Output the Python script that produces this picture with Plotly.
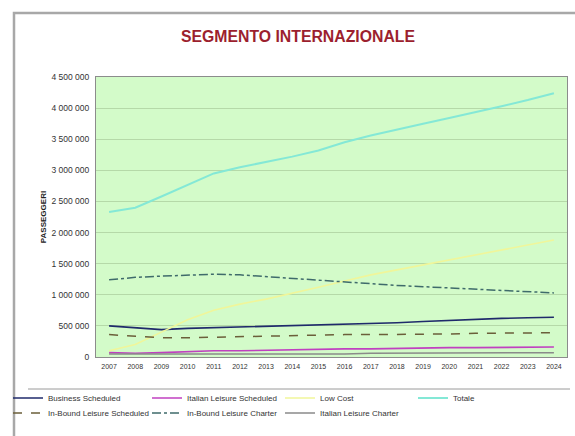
import plotly.graph_objects as go

years = [str(y) for y in range(2007, 2025)]

business_scheduled = [500000, 470000, 440000, 460000, 470000, 480000, 490000, 500000, 510000,
                      520000, 530000, 550000, 570000, 590000, 600000, 620000, 630000, 640000]
italian_leisure_scheduled = [70000, 60000, 70000, 90000, 100000, 100000, 110000, 110000, 120000,
                             130000, 130000, 140000, 140000, 150000, 150000, 150000, 160000, 160000]
low_cost = [100000, 200000, 400000, 600000, 750000, 850000, 930000, 1020000, 1120000,
            1220000, 1320000, 1400000, 1480000, 1560000, 1640000, 1720000, 1800000, 1880000]
totale = [2330000, 2400000, 2580000, 2760000, 2950000, 3050000, 3130000, 3220000, 3320000,
          3450000, 3560000, 3660000, 3750000, 3840000, 3930000, 4030000, 4130000, 4240000]
inbound_leisure_scheduled = [360000, 330000, 310000, 310000, 320000, 330000, 330000, 340000, 350000,
                             360000, 360000, 360000, 370000, 370000, 380000, 380000, 390000, 390000]
inbound_leisure_charter = [1240000, 1280000, 1300000, 1320000, 1330000, 1320000, 1290000, 1260000, 1230000,
                           1200000, 1180000, 1150000, 1130000, 1110000, 1090000, 1070000, 1050000, 1030000]
italian_leisure_charter = [50000, 50000, 40000, 40000, 40000, 50000, 50000, 50000, 50000,
                           50000, 60000, 60000, 60000, 60000, 60000, 70000, 70000, 70000]

# name, values, colour, dash, width, legend column, legend row
series = [
    ("Business Scheduled", business_scheduled, "#1F2A6B", "solid", 1.6, 0, 0),
    ("Italian Leisure Scheduled", italian_leisure_scheduled, "#C040C0", "solid", 1.6, 1, 0),
    ("Low Cost", low_cost, "#F0F69A", "solid", 1.6, 2, 0),
    ("Totale", totale, "#84E8D6", "solid", 2, 3, 0),
    ("In-Bound Leisure Scheduled", inbound_leisure_scheduled, "#6B5F3A", "dash", 1.5, 0, 1),
    ("In-Bound Leisure Charter", inbound_leisure_charter, "#3F6B6B", "dashdot", 1.5, 1, 1),
    ("Italian Leisure Charter", italian_leisure_charter, "#8A8A8A", "solid", 1.5, 2, 1),
]

W, H = 575, 436
L, R, T, B = 96, 8, 77, 79
pw, ph = W - L - R, H - T - B
col_text_x = [48, 187, 320, 453]
row_y = [398, 413]

def px(x):
    return (x - L) / pw

def py(y):
    return (H - B - y) / ph

fig = go.Figure()
legends = {}
for i, (name, vals, color, dash, width, col, row) in enumerate(series):
    lg = "legend" if i == 0 else f"legend{i + 1}"
    fig.add_trace(go.Scatter(x=years, y=vals, name=name, mode="lines", legend=lg,
                             line=dict(color=color, dash=dash, width=width)))
    legends[lg] = dict(orientation="h", xanchor="left", yanchor="middle",
                       xref="container", yref="container",
                       x=(col_text_x[col] - 40) / W, y=1 - row_y[row] / H,
                       itemwidth=30, font=dict(size=8, color="#333333"),
                       bgcolor="rgba(0,0,0,0)")

fig.update_layout(
    width=W, height=H,
    margin=dict(l=L, r=R, t=T, b=B, autoexpand=False),
    paper_bgcolor="white",
    plot_bgcolor="#D3FBC9",
    separators=". ",
    font=dict(family="Liberation Sans, Arial, sans-serif", color="#333333", size=8),
    title=dict(text="<b>SEGMENTO INTERNAZIONALE</b>", x=298 / W, xanchor="center",
               y=1 - 36 / H, yanchor="middle",
               font=dict(size=15.8, color="#9C1F2E", family="Liberation Sans, Arial, sans-serif")),
    showlegend=True,
    xaxis=dict(type="category", range=[-0.5, 17.5], showgrid=False, automargin=False,
               showline=True, linecolor="#8C8C8C", linewidth=1, mirror=True,
               ticks="outside", ticklen=3, tickcolor="rgba(0,0,0,0)",
               tickfont=dict(size=7, color="#333333"), fixedrange=True),
    yaxis=dict(range=[0, 4500000], dtick=500000, tickformat=",d", automargin=False,
               showgrid=True, gridcolor="#B5D9A8", gridwidth=1,
               showline=True, linecolor="#8C8C8C", linewidth=1, mirror=True,
               zeroline=False, ticks="outside", ticklen=4, tickcolor="rgba(0,0,0,0)",
               tickfont=dict(size=8.5, color="#333333"),
               title=dict(text="<b>PASSEGGERI</b>", font=dict(size=8, color="#222222"), standoff=3),
               fixedrange=True),
    shapes=[
        dict(type="rect", xref="paper", yref="paper",
             x0=px(14), x1=px(590), y0=py(450), y1=py(13),
             line=dict(color="#A8A8A8", width=2.5), fillcolor="rgba(0,0,0,0)", layer="below"),
        dict(type="line", xref="paper", yref="paper",
             x0=px(28), x1=px(570), y0=py(389), y1=py(389),
             line=dict(color="#9A9A9A", width=1)),
    ],
)
fig.update_layout(**legends)

fig.write_html("out.html", config={"displayModeBar": False},
               post_script="document.body.style.margin='0px';document.body.style.overflow='hidden';")
